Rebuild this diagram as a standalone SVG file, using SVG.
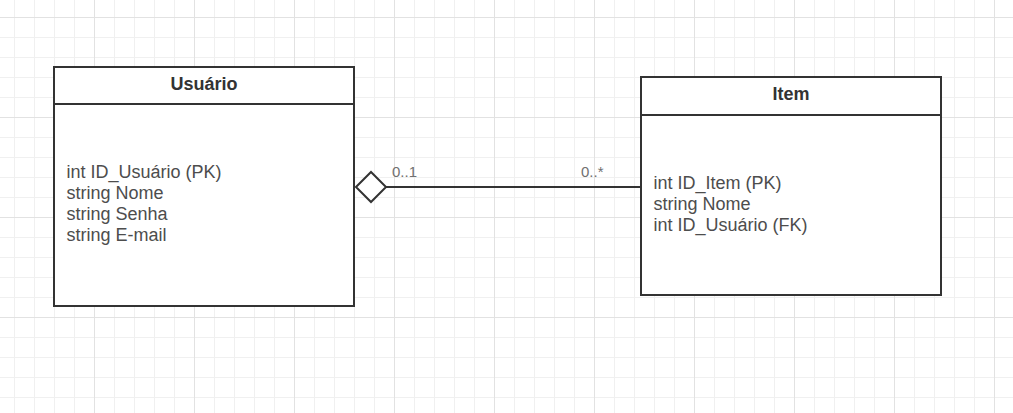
<svg xmlns="http://www.w3.org/2000/svg" width="1013" height="413" viewBox="0 0 1013 413">
<style>
.box{fill:#ffffff;stroke:#333333;stroke-width:2}
.div{stroke:#333333;stroke-width:2}
.hdr{font-family:"Liberation Sans",Arial,sans-serif;font-size:18px;font-weight:bold;fill:#333333;text-anchor:middle}
.body{font-family:"Liberation Sans",Arial,sans-serif;font-size:18px;fill:#4d4d4d}
.lbl{font-family:"Liberation Sans",Arial,sans-serif;font-size:15px;fill:#707070}
.edge{fill:none;stroke:#333333;stroke-width:2}
.diamond{fill:#ffffff;stroke:#333333;stroke-width:2}
</style>
<defs>
<pattern id="minor" x="14" y="17" width="20" height="20" patternUnits="userSpaceOnUse">
<rect x="0" y="0" width="1" height="20" fill="#f0f0f0"/>
<rect x="0" y="0" width="20" height="1" fill="#f0f0f0"/>
</pattern>
<pattern id="major" x="94" y="17" width="100" height="100" patternUnits="userSpaceOnUse">
<rect x="0" y="0" width="1" height="100" fill="#e2e2e2"/>
<rect x="0" y="0" width="100" height="1" fill="#e2e2e2"/>
</pattern>
</defs>
<rect width="1013" height="413" fill="#ffffff"/>
<rect width="1013" height="413" fill="url(#minor)"/>
<rect width="1013" height="413" fill="url(#major)"/>
<g id="connectors">
<line class="edge" x1="386" y1="187" x2="641" y2="187"/>
<polygon class="diamond" points="356,187 371,172 386,187 371,202"/>
<text class="lbl" x="392" y="177">0..1</text>
<text class="lbl" x="581" y="177">0..*</text>
</g>
<g id="usuario">
<rect class="box" x="54" y="67" width="300" height="239"/>
<line class="div" x1="54" y1="104" x2="354" y2="104"/>
<text class="hdr" x="204" y="89.5">Usuário</text>
<text class="body" x="66.5" y="177.5">int ID_Usuário (PK)</text>
<text class="body" x="66.5" y="198.5">string Nome</text>
<text class="body" x="66.5" y="219.5">string Senha</text>
<text class="body" x="66.5" y="240.5">string E-mail</text>
</g>
<g id="item">
<rect class="box" x="641" y="77" width="300" height="218"/>
<line class="div" x1="641" y1="115" x2="941" y2="115"/>
<text class="hdr" x="791" y="100">Item</text>
<text class="body" x="653.5" y="188.5">int ID_Item (PK)</text>
<text class="body" x="653.5" y="209.5">string Nome</text>
<text class="body" x="653.5" y="230.5">int ID_Usuário (FK)</text>
</g>
</svg>
